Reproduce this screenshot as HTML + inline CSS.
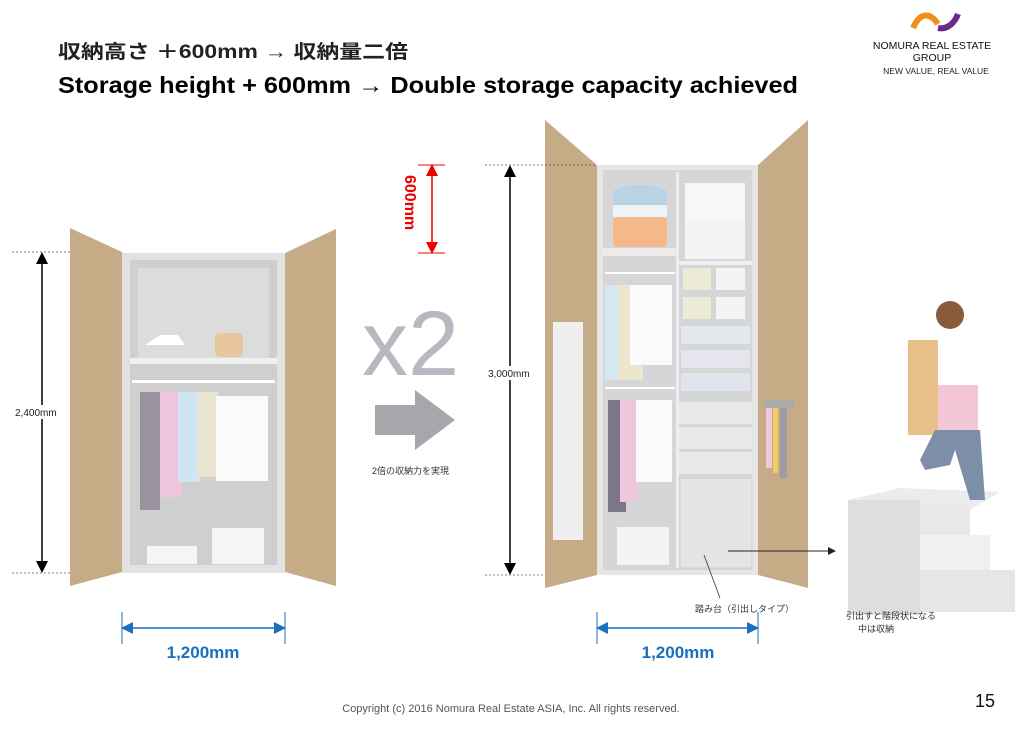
<!DOCTYPE html>
<html><head><meta charset="utf-8"><style>
body{margin:0;background:#fff;}
svg{display:block;font-family:"Liberation Sans","Noto Sans CJK JP",sans-serif;}
</style></head><body>
<svg width="1033" height="730" viewBox="0 0 1033 730" xmlns="http://www.w3.org/2000/svg">
<defs>
<marker id="ab" markerWidth="8" markerHeight="8" refX="4" refY="4" orient="auto-start-reverse"><path d="M0,0 L8,4 L0,8 z" fill="#000"/></marker>
<marker id="ar" markerWidth="8" markerHeight="8" refX="4" refY="4" orient="auto-start-reverse"><path d="M0,0 L8,4 L0,8 z" fill="#e00"/></marker>
<marker id="abl" markerWidth="8" markerHeight="8" refX="4" refY="4" orient="auto-start-reverse"><path d="M0,0 L8,4 L0,8 z" fill="#1a6fc0"/></marker>
</defs>
<text x="58" y="58" font-size="19" font-weight="bold" fill="#222" textLength="350" lengthAdjust="spacingAndGlyphs">収納高さ ＋600mm → 収納量二倍</text>
<text x="58" y="93" font-size="23" font-weight="bold" fill="#000" textLength="740" lengthAdjust="spacingAndGlyphs">Storage height + 600mm  →  Double storage capacity achieved</text>
<!-- logo -->
<path d="M913,28 C920,12 930,12 938,24" stroke="#f0901a" stroke-width="6" fill="none"/>
<path d="M938,28 C948,30 955,22 958,14" stroke="#6a2a8a" stroke-width="6" fill="none"/>
<text x="932" y="49" font-size="10.5" text-anchor="middle" fill="#111">NOMURA REAL ESTATE</text>
<text x="932" y="61" font-size="10.5" text-anchor="middle" fill="#111">GROUP</text>
<text x="936" y="74" font-size="8.5" text-anchor="middle" fill="#222">NEW VALUE, REAL VALUE</text>

<!-- left wardrobe -->
<rect x="122" y="253" width="163" height="320" fill="#e2e2e2"/>
<rect x="130" y="260" width="147" height="305" fill="#cfcfd0"/>
<rect x="138" y="268" width="131" height="92" fill="#dcdcdc"/>
<rect x="130" y="358" width="147" height="6" fill="#f0f0f0"/>
<rect x="132" y="380" width="143" height="3" fill="#fff"/>
<path d="M145,345 L185,345 L178,335 L160,335 z" fill="#fff"/>
<rect x="215" y="333" width="28" height="24" rx="5" fill="#e8c79c"/>
<rect x="140" y="392" width="20" height="118" fill="#9b93a0"/>
<rect x="160" y="392" width="22" height="105" fill="#f0c6dc"/>
<rect x="178" y="392" width="22" height="90" fill="#cfe6f2"/>
<rect x="198" y="392" width="20" height="85" fill="#e8e4d0"/>
<rect x="216" y="396" width="52" height="85" fill="#fafafa"/>
<rect x="147" y="546" width="50" height="18" fill="#f5f5f5"/>
<rect x="212" y="528" width="52" height="36" fill="#f5f5f5"/>
<polygon points="70,228 122,252 122,572 70,586" fill="#c5ab86"/>
<polygon points="285,253 336,229 336,586 285,572" fill="#c5ab86"/>
<!-- left dims -->
<line x1="12" y1="252" x2="70" y2="252" stroke="#555" stroke-dasharray="2,2" stroke-width="0.8"/>
<line x1="12" y1="573" x2="70" y2="573" stroke="#555" stroke-dasharray="2,2" stroke-width="0.8"/>
<line x1="42" y1="258" x2="42" y2="567" stroke="#000" stroke-width="1.5" marker-start="url(#ab)" marker-end="url(#ab)"/>
<rect x="12" y="405" width="56" height="14" fill="#fff"/>
<text x="15" y="416" font-size="10" fill="#222">2,400mm</text>
<line x1="122" y1="612" x2="122" y2="644" stroke="#1a6fc0"/>
<line x1="285" y1="612" x2="285" y2="644" stroke="#1a6fc0"/>
<line x1="127" y1="628" x2="280" y2="628" stroke="#1a6fc0" stroke-width="1.5" marker-start="url(#abl)" marker-end="url(#abl)"/>
<text x="203" y="658" font-size="17" font-weight="bold" fill="#1a6fc0" text-anchor="middle">1,200mm</text>

<!-- middle -->
<text x="362" y="375" font-size="92" fill="#b8b8c0" font-weight="100" style="font-family:'DejaVu Sans ExtraLight','Liberation Sans',sans-serif">x2</text>
<polygon points="375,405 415,405 415,390 455,420 415,450 415,435 375,435" fill="#a9a6ab"/>
<text x="372" y="474" font-size="9" fill="#333">2倍の収納力を実現</text>
<line x1="432" y1="170" x2="432" y2="248" stroke="#e00" stroke-width="1.5" marker-start="url(#ar)" marker-end="url(#ar)"/>
<line x1="418" y1="165" x2="445" y2="165" stroke="#e00"/>
<line x1="418" y1="253" x2="445" y2="253" stroke="#e00"/>
<text transform="translate(405,175) rotate(90)" font-size="16" font-weight="bold" fill="#e00">600mm</text>

<!-- right wardrobe -->
<rect x="597" y="165" width="161" height="410" fill="#e6e6e6"/>
<rect x="603" y="170" width="149" height="400" fill="#d6d6d8"/>
<rect x="676" y="172" width="3" height="396" fill="#eee"/>
<ellipse cx="640" cy="193" rx="27" ry="8" fill="#b9d3e4"/>
<rect x="613" y="193" width="54" height="12" fill="#b9d3e4"/>
<rect x="613" y="205" width="54" height="12" fill="#eef3f6"/>
<rect x="613" y="217" width="54" height="30" rx="4" fill="#f3b98a"/>
<rect x="603" y="248" width="73" height="8" fill="#ebebeb"/>
<rect x="605" y="272" width="70" height="2" fill="#fff"/>
<rect x="605" y="285" width="25" height="95" fill="#d4e8f4"/>
<rect x="618" y="285" width="25" height="95" fill="#ece6cf"/>
<rect x="630" y="285" width="42" height="80" fill="#fafafa"/>
<rect x="605" y="387" width="70" height="2" fill="#fff"/>
<rect x="608" y="400" width="18" height="112" fill="#7d7588"/>
<rect x="620" y="400" width="18" height="102" fill="#f0c6dc"/>
<rect x="636" y="400" width="36" height="82" fill="#fafafa"/>
<rect x="617" y="527" width="52" height="38" fill="#f4f4f4"/>
<rect x="685" y="183" width="60" height="38" fill="#f7f7f7"/>
<rect x="685" y="221" width="60" height="38" fill="#f4f4f4"/>
<rect x="679" y="261" width="73" height="4" fill="#eee"/>
<rect x="683" y="268" width="28" height="22" fill="#ecebd6"/>
<rect x="716" y="268" width="29" height="22" fill="#f4f4f4"/>
<rect x="683" y="297" width="28" height="22" fill="#ecebd6"/>
<rect x="716" y="297" width="29" height="22" fill="#f4f4f4"/>
<rect x="681" y="326" width="69" height="18" fill="#e2e8ec"/>
<rect x="681" y="350" width="69" height="18" fill="#e6e4ec"/>
<rect x="681" y="373" width="69" height="18" fill="#e0e4ec"/>
<rect x="679" y="402" width="73" height="22" fill="#eaeaea"/>
<rect x="679" y="427" width="73" height="22" fill="#eaeaea"/>
<rect x="679" y="452" width="73" height="22" fill="#eaeaea"/>
<rect x="680" y="478" width="72" height="90" fill="#e4e4e4" stroke="#d0d0d0"/>
<polygon points="545,120 597,165 597,575 545,588" fill="#c5ab86"/>
<rect x="553" y="322" width="30" height="218" fill="#efefef"/>
<polygon points="758,165 808,120 808,588 758,575" fill="#c5ab86"/>
<rect x="764" y="400" width="30" height="8" fill="#aaa"/>
<rect x="766" y="408" width="6" height="60" fill="#f0c8d8"/>
<rect x="773" y="408" width="5" height="65" fill="#f0d060"/>
<rect x="780" y="408" width="7" height="70" fill="#a09aa5"/>
<!-- right dims -->
<line x1="485" y1="165" x2="597" y2="165" stroke="#555" stroke-dasharray="2,2" stroke-width="0.8"/>
<line x1="485" y1="575" x2="545" y2="575" stroke="#555" stroke-dasharray="2,2" stroke-width="0.8"/>
<line x1="510" y1="171" x2="510" y2="569" stroke="#000" stroke-width="1.5" marker-start="url(#ab)" marker-end="url(#ab)"/>
<rect x="487" y="366" width="52" height="14" fill="#fff"/>
<text x="488" y="377" font-size="10" fill="#222">3,000mm</text>
<line x1="597" y1="612" x2="597" y2="644" stroke="#1a6fc0"/>
<line x1="758" y1="612" x2="758" y2="644" stroke="#1a6fc0"/>
<line x1="602" y1="628" x2="753" y2="628" stroke="#1a6fc0" stroke-width="1.5" marker-start="url(#abl)" marker-end="url(#abl)"/>
<text x="678" y="658" font-size="17" font-weight="bold" fill="#1a6fc0" text-anchor="middle">1,200mm</text>
<line x1="704" y1="555" x2="720" y2="598" stroke="#333" stroke-width="0.8"/>
<text x="695" y="612" font-size="9" fill="#333">踏み台（引出しタイプ）</text>
<line x1="728" y1="551" x2="830" y2="551" stroke="#222"/>
<path d="M828,547 L836,551 L828,555 z" fill="#222"/>

<!-- stool & person -->
<polygon points="848,500 900,488 1000,492 970,510 920,505" fill="#ececec"/>
<rect x="848" y="500" width="72" height="115" fill="#dedede"/>
<rect x="920" y="505" width="50" height="30" fill="#e8e8e8"/>
<rect x="920" y="535" width="70" height="35" fill="#f0f0f0"/>
<rect x="920" y="570" width="95" height="42" fill="#e6e6e6"/>
<rect x="933" y="385" width="45" height="45" fill="#f3c6d8"/>
<rect x="908" y="340" width="30" height="95" fill="#e8c08a"/>
<circle cx="950" cy="315" r="14" fill="#8a5a3a"/>
<polygon points="935,430 980,430 985,500 970,500 955,450 950,465 925,470 920,460" fill="#7d8fa8"/>
<text x="846" y="619" font-size="9" fill="#333">引出すと階段状になる</text>
<text x="858" y="632" font-size="9" fill="#333">中は収納</text>

<text x="511" y="712" font-size="11" fill="#555" text-anchor="middle">Copyright (c) 2016 Nomura Real Estate ASIA, Inc. All rights reserved.</text>
<text x="975" y="707" font-size="18" fill="#111">15</text>
</svg>
</body></html>
